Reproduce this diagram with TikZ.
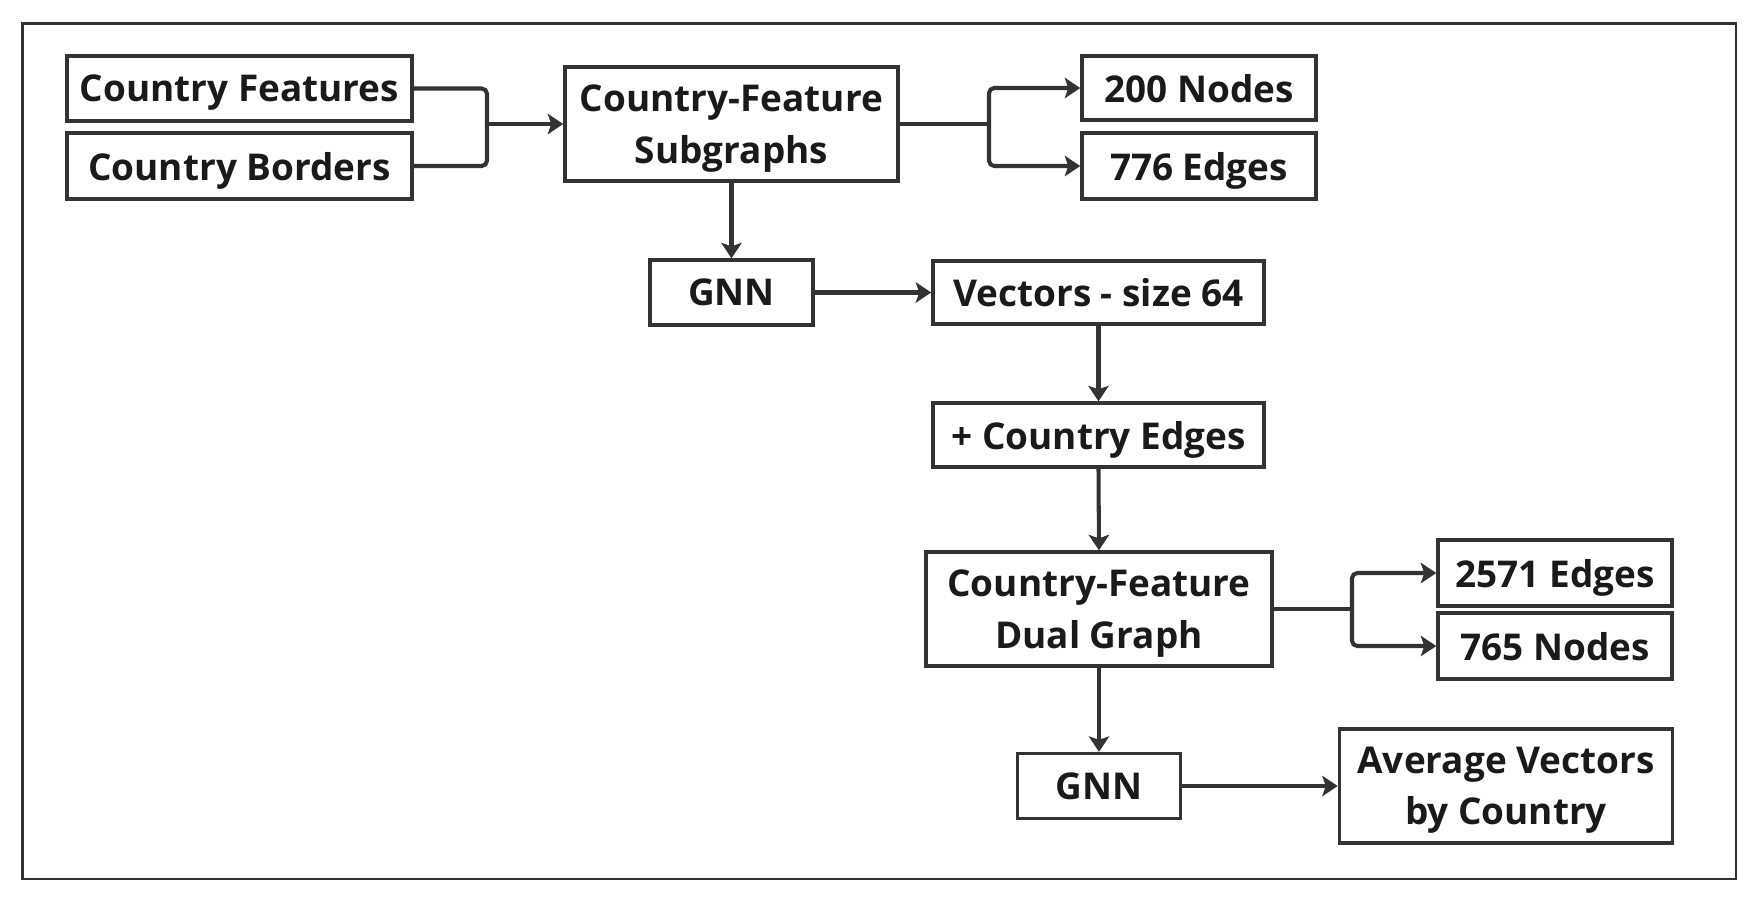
\documentclass[tikz,border=0pt]{standalone}
\usepackage{fontspec}
\setmainfont{Open Sans}
\usetikzlibrary{arrows.meta}

\definecolor{linegray}{HTML}{333333}
\definecolor{textgray}{HTML}{1A1A1A}

\tikzset{
  box/.style={draw=linegray, line width=0.95pt, text=textgray, align=center,
    inner sep=0pt, text depth=-1pt, font=\bfseries\fontsize{10.5}{14.6}\selectfont},
  link/.style={draw=linegray, line width=1.15pt, rounded corners=1.5pt},
  flow/.style={link, -{Stealth[length=4.4pt,width=5.8pt,inset=1pt]}},
}

\begin{document}
\begin{tikzpicture}[x=0.01cm, y=-0.01cm]
	\useasboundingbox (0,0) rectangle (1762,905);
	\draw[linegray, line width=0.75pt] (22.5,23.5) rectangle (1736,879);

	% inputs and first graph
	\node[box, minimum width=3.45cm, minimum height=0.65cm] (feat) at (239.5,88.5) {Country Features};
	\node[box, minimum width=3.45cm, minimum height=0.66cm] (bord) at (239.5,166) {Country Borders};
	\node[box, minimum width=3.33cm, minimum height=1.14cm] (sub) at (731.5,124) {Country-Feature\\Subgraphs};
	\node[box, minimum width=2.34cm, minimum height=0.64cm] (nodesA) at (1199,88) {200 Nodes};
	\node[box, minimum width=2.34cm, minimum height=0.66cm] (edgesA) at (1199,166) {776 Edges};

	% embedding
	\node[box, minimum width=1.63cm, minimum height=0.65cm] (gnnA) at (731.5,292.5) {GNN};
	\node[box, minimum width=3.31cm, minimum height=0.63cm] (vec) at (1098.5,292.5) {Vectors - size 64};
	\node[box, minimum width=3.31cm, minimum height=0.64cm] (cedge) at (1098.5,435) {+ Country Edges};

	% dual graph
	\node[box, minimum width=3.46cm, minimum height=1.14cm] (dual) at (1099,609) {Country-Feature\\Dual Graph};
	\node[box, minimum width=2.34cm, minimum height=0.66cm] (edgesB) at (1555,573) {2571 Edges};
	\node[box, minimum width=2.34cm, minimum height=0.66cm] (nodesB) at (1555,646) {765 Nodes};
	\node[box, minimum width=1.63cm, minimum height=0.65cm] (gnnB) at (1099,786) {GNN};
	\node[box, minimum width=3.33cm, minimum height=1.14cm] (avg) at (1506,786) {Average Vectors\\by Country};

	\coordinate (joinL) at (487,124);
	\coordinate (joinR) at (989,124);
	\coordinate (joinD) at (1352,609);

	\draw[link] (feat.east) -| (joinL);
	\draw[link] (bord.east) -| (joinL);
	\draw[flow] (joinL) -- (sub.west);

	\draw[link] (sub.east) -- (joinR);
	\draw[flow] (joinR) |- (nodesA.west);
	\draw[flow] (joinR) |- (edgesA.west);

	\draw[flow] (sub.south) -- (gnnA.north);
	\draw[flow] (gnnA.east) -- (vec.west);
	\draw[flow] (vec.south) -- (cedge.north);
	\draw[flow] (cedge.south) -- (dual.north);

	\draw[link] (dual.east) -- (joinD);
	\draw[flow] (joinD) |- (edgesB.west);
	\draw[flow] (joinD) |- (nodesB.west);

	\draw[flow] (dual.south) -- (gnnB.north);
	\draw[flow] (gnnB.east) -- (avg.west);
\end{tikzpicture}
\end{document}
